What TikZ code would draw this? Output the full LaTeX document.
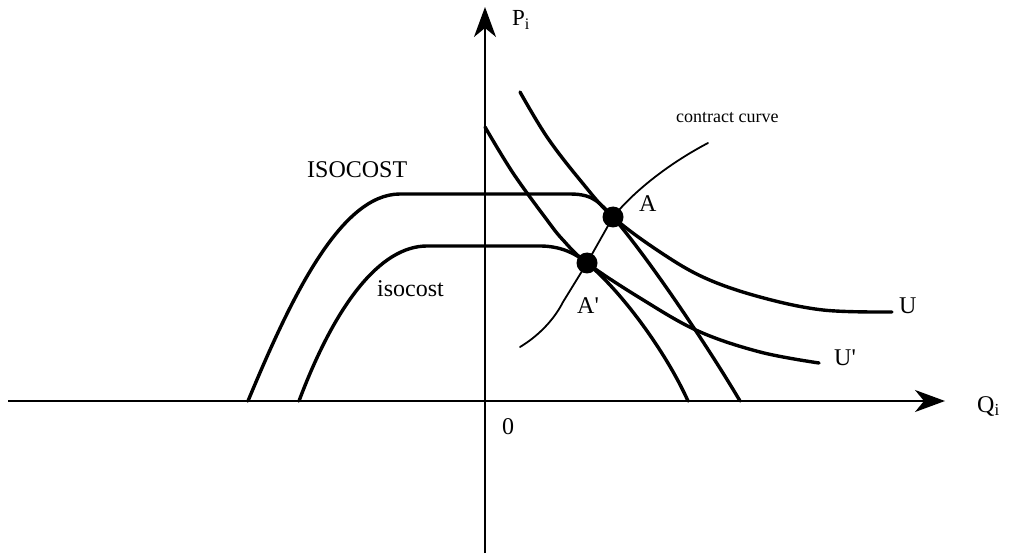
\documentclass[tikz,border=0pt]{standalone}
\usepackage{fontspec}
\setmainfont{Liberation Serif}
\usetikzlibrary{arrows.meta}
\tikzset{
  axisline/.style={line width=1.8pt, -{Stealth[length=30pt,width=22pt,inset=9pt]}},
  curveline/.style={line width=3.4pt, line cap=round},
  thinline/.style={line width=1.8pt, line cap=round},
  dot/.style={circle, fill=black, minimum size=21pt, inner sep=0pt},
  lbl/.style={inner sep=0pt, anchor=base west, font=\fontsize{24}{28}\selectfont},
  smalllbl/.style={inner sep=0pt, anchor=base west, font=\fontsize{18}{22}\selectfont},
}
\begin{document}
\begin{tikzpicture}[x=1pt, y=-1pt]
\useasboundingbox (0,0) rectangle (1010,556);
% axes
\coordinate (xs) at (8,401);
\coordinate (xe) at (945,401);
\coordinate (ys) at (485,553);
\coordinate (ye) at (485,7);
\draw[axisline] (xs) -- (xe);
\draw[axisline] (ys) -- (ye);
% outer isocost
\draw[curveline] (248,401) .. controls (290,300) and (340,194) .. (400,194)
  -- (570,194) .. controls (595,194) and (600,204) .. (613,217)
  .. controls (650,260) and (710,350) .. (740,401);
% inner isocost
\draw[curveline] (299,401) .. controls (335,305) and (380,246) .. (427,246)
  -- (540,246) .. controls (560,246) and (575,253) .. (587,263)
  .. controls (620,290) and (665,350) .. (688,401);
% U
\draw[curveline] plot[smooth, tension=0.6] coordinates {(520,92) (547,137) (580,180) (613,217) (660,252) (705,278) (760,297) (823,310) (892,312)};
% U'
\draw[curveline] plot[smooth, tension=0.6] coordinates {(485,127) (513,173) (547,220) (563,240) (587,263) (640,298) (698,331) (760,352) (819,363)};
% contract curve
\draw[thinline] (520,347) .. controls (540,335) and (555,318) .. (563,302)
  -- (587,263) -- (613,217) .. controls (635,190) and (670,163) .. (708,143);
% points
\node[dot] (A) at (613,217) {};
\node[dot] (Ap) at (587,263) {};
% labels
\node[lbl, font=\fontsize{23}{26}\selectfont] (Pi) at (512,26) {P\textsubscript{i}};
\node[lbl] (Qi) at (977,412) {Q\textsubscript{i}};
\node[lbl] (zero) at (502,434) {0};
\node[lbl] (ISO) at (307,178) {ISOCOST};
\node[lbl] (iso) at (377,297) {isocost};
\node[lbl] (Alab) at (639,212) {A};
\node[lbl] (Aplab) at (577,313) {A\textquotesingle};
\node[lbl] (Ulab) at (899,313) {U};
\node[lbl] (Uplab) at (834,365) {U\textquotesingle};
\node[smalllbl] (cc) at (676,123) {contract curve};
\end{tikzpicture}
\end{document}
